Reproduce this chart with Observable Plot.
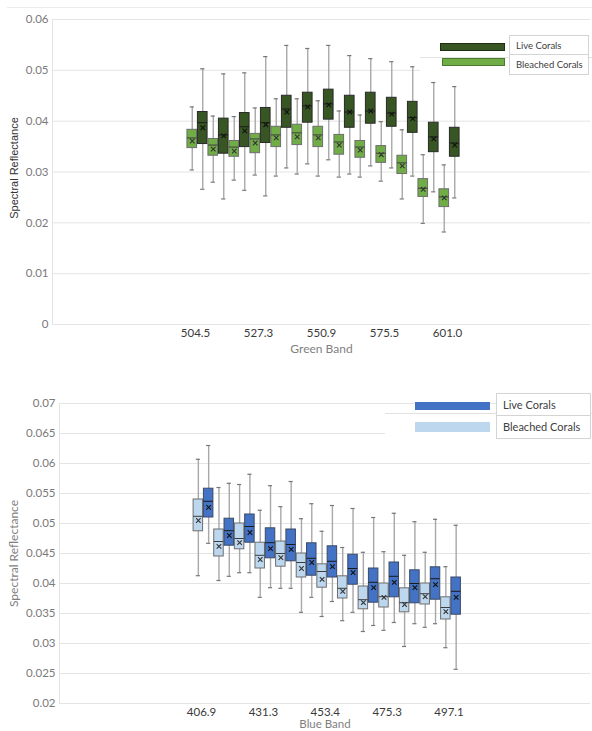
<!DOCTYPE html>
<html><head><meta charset="utf-8">
<script src="https://cdn.jsdelivr.net/npm/d3@7"></script>
<script src="https://cdn.jsdelivr.net/npm/@observablehq/plot@0.6"></script>
<style>
body{margin:0;background:#fff;}
#page{position:relative;width:592px;height:731px;overflow:hidden;font-family:Lato,"Open Sans",sans-serif;}
#top{position:absolute;left:0;top:0;}
#bottom{position:absolute;left:0;top:380px;}
.abs{position:absolute;box-sizing:border-box;}
.lgbox{position:absolute;box-sizing:border-box;border:1px solid #d4d4d4;background:#fff;color:#404040;}
.lgrow{box-sizing:border-box;padding-left:6px;white-space:nowrap;}
</style></head><body>
<div id="page">
  <div class="abs" style="left:7px;top:7px;width:585px;height:0;border-top:1px solid #ececec"></div>
  <div id="top"></div>
  <div id="bottom"></div>
  <div id="legend-top"></div>
  <div id="legend-bottom"></div>
</div>
<script>
// ---------- DATA (each row: [low whisker, Q1, median, Q3, high whisker, mean]) ----------
const greenTicks = ["504.5", "527.3", "550.9", "575.5", "601.0"];
const blueTicks  = ["406.9", "431.3", "453.4", "475.3", "497.1"];
const seriesNames = ["Live Corals", "Bleached Corals"];

const greenLive = [
  [0.0266, 0.0355, 0.0397, 0.0418, 0.0503, 0.0387],
  [0.0247, 0.0336, 0.0373, 0.0405, 0.0493, 0.0371],
  [0.0264, 0.0349, 0.0389, 0.0416, 0.0495, 0.0381],
  [0.0253, 0.0357, 0.0397, 0.0426, 0.0527, 0.0393],
  [0.0308, 0.0387, 0.0424, 0.0450, 0.0549, 0.0418],
  [0.0316, 0.0397, 0.0430, 0.0456, 0.0543, 0.0428],
  [0.0324, 0.0403, 0.0434, 0.0462, 0.0549, 0.0432],
  [0.0296, 0.0387, 0.0418, 0.0450, 0.0529, 0.0418],
  [0.0312, 0.0395, 0.0420, 0.0456, 0.0523, 0.0420],
  [0.0308, 0.0389, 0.0416, 0.0446, 0.0517, 0.0414],
  [0.0292, 0.0377, 0.0407, 0.0438, 0.0507, 0.0405],
  [0.0261, 0.0339, 0.0369, 0.0397, 0.0476, 0.0365],
  [0.0249, 0.0330, 0.0357, 0.0387, 0.0468, 0.0353]
];
const greenBleached = [
  [0.0304, 0.0347, 0.0367, 0.0383, 0.0428, 0.0361],
  [0.0280, 0.0332, 0.0353, 0.0365, 0.0410, 0.0345],
  [0.0284, 0.0330, 0.0349, 0.0361, 0.0409, 0.0341],
  [0.0294, 0.0337, 0.0365, 0.0375, 0.0426, 0.0357],
  [0.0292, 0.0349, 0.0373, 0.0389, 0.0444, 0.0367],
  [0.0296, 0.0353, 0.0377, 0.0393, 0.0444, 0.0369],
  [0.0292, 0.0349, 0.0373, 0.0389, 0.0440, 0.0367],
  [0.0290, 0.0334, 0.0359, 0.0373, 0.0420, 0.0353],
  [0.0290, 0.0328, 0.0349, 0.0361, 0.0412, 0.0343],
  [0.0282, 0.0318, 0.0337, 0.0351, 0.0399, 0.0334],
  [0.0247, 0.0296, 0.0318, 0.0332, 0.0383, 0.0312],
  [0.0199, 0.0251, 0.0268, 0.0286, 0.0334, 0.0266],
  [0.0182, 0.0231, 0.0251, 0.0266, 0.0314, 0.0249]
];
const blueLive = [
  [0.0467, 0.0510, 0.0537, 0.0558, 0.0630, 0.0527],
  [0.0412, 0.0463, 0.0488, 0.0508, 0.0567, 0.0480],
  [0.0418, 0.0468, 0.0495, 0.0515, 0.0582, 0.0485],
  [0.0393, 0.0442, 0.0468, 0.0492, 0.0563, 0.0458],
  [0.0392, 0.0437, 0.0465, 0.0490, 0.0570, 0.0457],
  [0.0377, 0.0413, 0.0442, 0.0467, 0.0533, 0.0435],
  [0.0370, 0.0410, 0.0437, 0.0462, 0.0530, 0.0428],
  [0.0352, 0.0398, 0.0425, 0.0448, 0.0525, 0.0418],
  [0.0330, 0.0368, 0.0402, 0.0425, 0.0510, 0.0393],
  [0.0335, 0.0377, 0.0412, 0.0435, 0.0517, 0.0402],
  [0.0333, 0.0367, 0.0400, 0.0422, 0.0503, 0.0393],
  [0.0333, 0.0373, 0.0408, 0.0427, 0.0507, 0.0398],
  [0.0257, 0.0348, 0.0387, 0.0410, 0.0497, 0.0377]
];
const blueBleached = [
  [0.0413, 0.0487, 0.0512, 0.0540, 0.0607, 0.0505],
  [0.0405, 0.0445, 0.0470, 0.0490, 0.0560, 0.0462],
  [0.0418, 0.0457, 0.0475, 0.0500, 0.0565, 0.0468],
  [0.0377, 0.0425, 0.0447, 0.0468, 0.0522, 0.0440],
  [0.0392, 0.0428, 0.0450, 0.0470, 0.0528, 0.0443],
  [0.0352, 0.0410, 0.0435, 0.0450, 0.0508, 0.0425],
  [0.0345, 0.0393, 0.0420, 0.0432, 0.0487, 0.0407],
  [0.0338, 0.0375, 0.0392, 0.0412, 0.0460, 0.0387],
  [0.0320, 0.0357, 0.0373, 0.0395, 0.0452, 0.0368],
  [0.0322, 0.0360, 0.0378, 0.0400, 0.0453, 0.0377],
  [0.0295, 0.0352, 0.0368, 0.0392, 0.0447, 0.0365],
  [0.0327, 0.0365, 0.0383, 0.0400, 0.0452, 0.0378],
  [0.0293, 0.0340, 0.0360, 0.0377, 0.0428, 0.0353]
];

// ---------- helpers ----------
function toRows(live, bleached) {
  const rows = [];
  live.forEach((v, i) => {
    const b = bleached[i];
    rows.push({group: seriesNames[1], x: i - 0.25, low: b[0], q1: b[1], median: b[2], q3: b[3], high: b[4], mean: b[5]});
    rows.push({group: seriesNames[0], x: i + 0.25, low: v[0], q1: v[1], median: v[2], q3: v[3], high: v[4], mean: v[5]});
  });
  return rows;
}

function boxChart(cfg) {
  const rows = toRows(cfg.live, cfg.bleached);
  const hw = 0.23, cap = 0.1;
  const tickIdx = cfg.ticks.map((_, k) => k * 3);
  return Plot.plot({
    width: 592,
    height: cfg.height,
    marginTop: cfg.marginTop,
    marginBottom: cfg.marginBottom,
    marginLeft: cfg.marginLeft,
    marginRight: 2,
    style: {fontFamily: "Lato, 'Open Sans', sans-serif", background: "transparent"},
    x: {domain: cfg.xDomain, axis: null},
    y: {domain: cfg.yDomain, axis: null},
    color: {domain: seriesNames, range: cfg.colors},
    marks: [
      Plot.gridY(cfg.yTicks, {stroke: "#e4e4e4", strokeOpacity: 1, strokeWidth: 1}),
      Plot.ruleX([cfg.xDomain[0]], {stroke: "#e4e4e4"}),
      Plot.axisY({ticks: cfg.yTicks, tickSize: 0, tickPadding: 4, fontSize: 11.5, fill: "#7a7a7a",
        tickFormat: d => d === 0 ? "0" : String(+d.toFixed(3)), label: null}),
      Plot.axisX({ticks: tickIdx, tickSize: 0, tickPadding: cfg.xTickPad, fontSize: 11.5, fill: "#3a3a3a", dx: -2,
        tickFormat: d => cfg.ticks[d / 3], label: null}),
      Plot.text([cfg.xLabel], {frameAnchor: "bottom", lineAnchor: "middle", dy: cfg.xLabelDy, fontSize: cfg.xLabelSize, fill: "#7f7f7f"}),
      Plot.text(["Spectral Reflectance"], {frameAnchor: "left", textAnchor: "middle", lineAnchor: "middle", rotate: -90,
        dx: cfg.yLabelDx, dy: cfg.yLabelDy,
        fontSize: cfg.yLabelSize, fill: cfg.yLabelColor, fontFamily: cfg.yLabelFont}),
      Plot.ruleX(rows, {x: "x", y1: "low", y2: "high", stroke: "#a8a8a8", strokeWidth: 1.4}),
      Plot.ruleY(rows, {y: "low", x1: d => d.x - cap, x2: d => d.x + cap, stroke: "#777", strokeWidth: 1.2}),
      Plot.ruleY(rows, {y: "high", x1: d => d.x - cap, x2: d => d.x + cap, stroke: "#777", strokeWidth: 1.2}),
      Plot.rect(rows, {x1: d => d.x - hw, x2: d => d.x + hw, y1: "q1", y2: "q3", fill: "group",
        stroke: d => d.group === seriesNames[0] ? cfg.darkStroke : "#6e6e6e", strokeWidth: 1}),
      Plot.ruleY(rows, {y: "median", x1: d => d.x - hw, x2: d => d.x + hw,
        stroke: d => d.group === seriesNames[0] ? "#1a1a1a" : "#3d3d3d", strokeWidth: 1}),
      Plot.dot(rows, {x: "x", y: "mean", symbol: "times", r: 2.2,
        stroke: d => d.group === seriesNames[0] ? "#111" : "#333", strokeWidth: 1.1})
    ]
  });
}

const range = (a, b, s) => d3.range(Math.round((b - a) / s) + 1).map(k => +(a + k * s).toFixed(4));

document.getElementById("top").append(boxChart({
  live: greenLive, bleached: greenBleached, ticks: greenTicks, xLabel: "Green Band", xLabelSize: 12,
  height: 360, marginTop: 19, marginBottom: 36, marginLeft: 52,
  xDomain: [(52 - 197) / 21, (590 - 197) / 21],
  yDomain: [0, 0.06], yTicks: range(0, 0.06, 0.01),
  colors: ["#375623", "#70AD47"], darkStroke: "#2a2a2a", xTickPad: 4, xLabelDy: 25,
  yLabelDx: -38, yLabelDy: -4, yLabelSize: 11, yLabelColor: "#333", yLabelFont: "'Liberation Sans', Arial, sans-serif"
}));

document.getElementById("bottom").append(boxChart({
  live: blueLive, bleached: blueBleached, ticks: blueTicks, xLabel: "Blue Band", xLabelSize: 11.5,
  height: 351, marginTop: 23, marginBottom: 28, marginLeft: 59,
  xDomain: [(59 - 203) / 20.625, (590 - 203) / 20.625],
  yDomain: [0.02, 0.07], yTicks: range(0.02, 0.07, 0.005),
  colors: ["#4472C4", "#BDD7EE"], darkStroke: "#3a4a66", xTickPad: 4, xLabelDy: 20.5,
  yLabelDx: -45, yLabelDy: 0, yLabelSize: 12, yLabelColor: "#7f7f7f", yLabelFont: "Lato, sans-serif"
}));

// ---------- legends (HTML overlay) ----------
function legend(el, o) {
  el.innerHTML = `
  <div class="abs" style="left:${o.bgL}px;top:${o.bgT}px;width:${592 - o.bgL}px;height:${o.bgH}px;background:#fff;border-top:1px solid #e2e2e2"></div>
  <div class="abs" style="left:${o.swL}px;top:${o.sw1T}px;width:${o.swW}px;height:${o.sw1H}px;background:${o.c[0]};border:1px solid ${o.b[0]}"></div>
  <div class="abs" style="left:${o.swL2}px;top:${o.sw2T}px;width:${o.swW2}px;height:${o.sw2H}px;background:${o.c[1]};border:1px solid ${o.b[1]}"></div>
  <div class="lgbox" style="left:${o.boxL}px;top:${o.boxT}px;width:${o.boxW}px;height:${o.boxH}px;font-size:${o.fs}px">
    <div class="lgrow" style="height:${o.boxH / 2 - 1}px;line-height:${o.boxH / 2 - 1}px;border-bottom:1px solid #d4d4d4">${seriesNames[0]}</div>
    <div class="lgrow" style="height:${o.boxH / 2 - 1}px;line-height:${o.boxH / 2 - 1}px">${seriesNames[1]}</div>
  </div>`;
}
legend(document.getElementById("legend-top"), {
  bgL: 420, bgT: 57, bgH: 20,
  swL: 440, sw1T: 43, swW: 65, sw1H: 8, swL2: 442, sw2T: 58, swW2: 63, sw2H: 8,
  c: ["#375623", "#70AD47"], b: ["#1e2e14", "#4a7a30"],
  boxL: 509, boxT: 35, boxW: 80, boxH: 40, fs: 9.5
});
legend(document.getElementById("legend-bottom"), {
  bgL: 385, bgT: 413, bgH: 27,
  swL: 415, sw1T: 402, swW: 75, sw1H: 8, swL2: 415, sw2T: 422, swW2: 75, sw2H: 10,
  c: ["#4472C4", "#BDD7EE"], b: ["#4472C4", "#BDD7EE"],
  boxL: 496, boxT: 393, boxW: 95, boxH: 46, fs: 11
});
</script>
</body></html>
